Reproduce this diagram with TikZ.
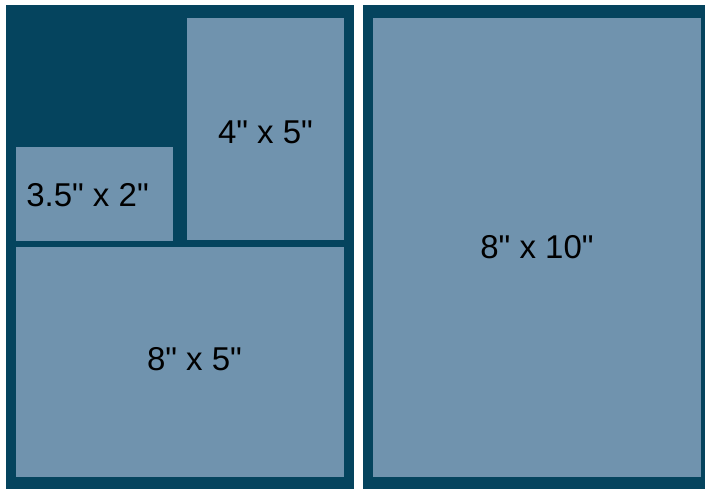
\documentclass[tikz,border=0pt]{standalone}
\usepackage{fontspec}
\setmainfont{Liberation Sans}[Ligatures=TeXOff]
\usepackage{tikz}
\definecolor{bleuNuit}{HTML}{05445E}
\definecolor{bleuGris}{HTML}{7093AE}
\tikzset{
  cadre/.style={fill=bleuNuit},
  tirage/.style={fill=bleuGris},
  format/.style={font=\fontsize{33}{40}\selectfont, color=black, inner sep=0pt}
}

\begin{document}
\begin{tikzpicture}[x=1pt, y=-1pt]
  \useasboundingbox (0,0) rectangle (705,489);

  % --- Deux planches
  \fill[cadre] (6,5) rectangle (354,489);
  \fill[cadre] (363,5) rectangle (705,489);

  % --- Tirages, planche gauche
  \fill[tirage] (187,18) rectangle (344,240);
  \fill[tirage] (16,147) rectangle (173,241);
  \fill[tirage] (16,247) rectangle (344,477);

  % --- Tirage, planche droite
  \fill[tirage] (373,18) rectangle (701,477);

  % --- Formats
  \node[format] (f4x5) at (265.5,132.5) {4" x 5"};
  \node[format] (f35x2) at (87.5,195.5) {3.5" x 2"};
  \node[format] (f8x5) at (194.5,359) {8" x 5"};
  \node[format] (f8x10) at (537,247.5) {8" x 10"};

\end{tikzpicture}
\end{document}
